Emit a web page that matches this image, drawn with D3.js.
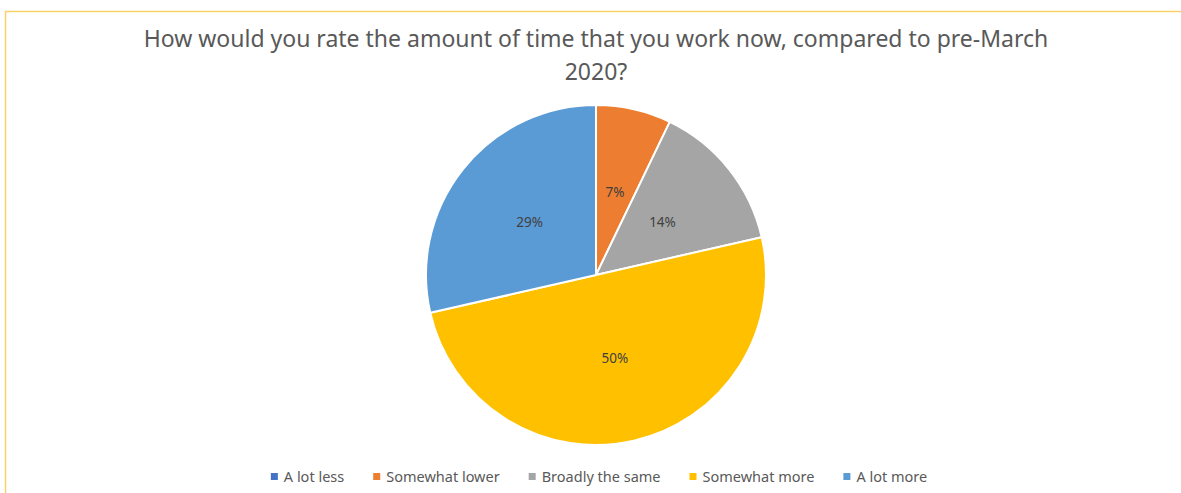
<!DOCTYPE html>
<html>
<head>
<meta charset="utf-8">
<script src="https://cdn.jsdelivr.net/npm/d3@7"></script>
<style>
  body { margin: 0; background: #fff; }
  text { font-family: "Noto Sans", "Open Sans", sans-serif; }
</style>
</head>
<body>
<script>
const categories = ["A lot less", "Somewhat lower", "Broadly the same", "Somewhat more", "A lot more"]
const counts = [0, 1, 2, 7, 4]
const colors = ["#4472C4", "#ED7D31", "#A5A5A5", "#FFC000", "#5B9BD5"]
const titleLines = ["How would you rate the amount of time that you work now, compared to pre-March", "2020?"]

const width = 1181
const height = 493
const cx = 596
const cy = 275
const radius = 170

const svg = d3.select("body").append("svg")
    .attr("width", width)
    .attr("height", height)

// chart frame (only top and left edge visible in the crop)
svg.append("rect")
    .attr("x", 5.5)
    .attr("y", 11.5)
    .attr("width", width + 20)
    .attr("height", height + 20)
    .attr("fill", "none")
    .attr("stroke", "#F9D16B")
    .attr("stroke-width", 1.5)

svg.selectAll("text.title")
    .data(titleLines)
    .join("text")
    .attr("class", "title")
    .attr("x", cx)
    .attr("y", (d, i) => 47 + i * 33)
    .attr("text-anchor", "middle")
    .attr("fill", "#595959")
    .style("font-size", "23px")
    .text(d => d)

const total = d3.sum(counts)
const pie = d3.pie().sort(null).value(d => d)(counts)
const arc = d3.arc().innerRadius(0).outerRadius(radius)
const labelArc = d3.arc().innerRadius(radius * 0.5).outerRadius(radius * 0.5)

const g = svg.append("g").attr("transform", `translate(${cx},${cy})`)

g.selectAll("path")
    .data(pie)
    .join("path")
    .attr("d", arc)
    .attr("fill", (d, i) => colors[i])
    .attr("stroke", "#fff")
    .attr("stroke-width", 2)
    .attr("stroke-linejoin", "round")

g.selectAll("text.lbl")
    .data(pie.filter(d => d.value > 0))
    .join("text")
    .attr("class", "lbl")
    .attr("transform", d => `translate(${labelArc.centroid(d)})`)
    .attr("text-anchor", "middle")
    .attr("dy", "0.35em")
    .attr("fill", "#404040")
    .style("font-size", "13.5px")
    .text(d => Math.round(d.value / total * 100) + "%")

// legend, centred under the pie
const legend = svg.append("g")
const items = legend.selectAll("g")
    .data(categories)
    .join("g")

items.append("rect")
    .attr("width", 7)
    .attr("height", 7)
    .attr("y", -4)
    .attr("fill", (d, i) => colors[i])

items.append("text")
    .attr("x", 13)
    .attr("dy", "0.35em")
    .attr("fill", "#595959")
    .style("font-size", "14.5px")
    .text(d => d)

const gap = 29
let xpos = 0
items.each(function () {
    const w = 13 + this.querySelector("text").getComputedTextLength()
    d3.select(this).attr("transform", `translate(${xpos},0)`)
    xpos += w + gap
})
xpos -= gap
legend.attr("transform", `translate(${cx + 3 - xpos / 2},477)`)
</script>
</body>
</html>
